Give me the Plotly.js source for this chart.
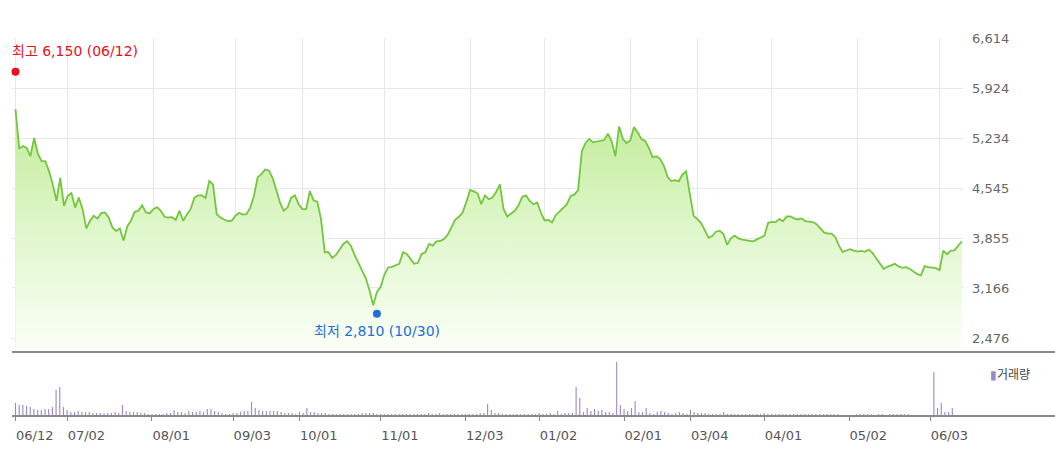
<!DOCTYPE html>
<html><head><meta charset="utf-8">
<script src="https://cdn.plot.ly/plotly-3.0.1.min.js"></script>
<style>html,body{margin:0;padding:0;background:#fff;}#chart{width:1055px;height:465px;}</style>
</head><body><div id="chart"></div>
<script>
// x tick positions (trading-day index) and labels
const tickIdx = [0,14,37,59,77,99,122,142,165,183,203,226,248];
const tickLabels = ['06/12','07/02','08/01','09/03','10/01','11/01','12/03','01/02','02/01','03/04','04/01','05/02','06/03'];
// price axis ticks
const priceTicks = [2476,3166,3855,4545,5234,5924,6614];
// daily close prices
const closePrice = [
5632,5088,5125,5097,4983,5234,5020,4915,4915,4778,
4595,4367,4686,4298,4435,4476,4275,4412,4253,3988,
4093,4161,4125,4198,4207,4138,4001,3951,3988,3819,
4015,4097,4216,4230,4307,4207,4198,4253,4280,4230,
4148,4138,4143,4106,4230,4093,4180,4253,4412,4444,
4444,4408,4641,4595,4184,4138,4111,4088,4093,4161,
4202,4180,4184,4275,4435,4695,4737,4800,4787,4686,
4517,4344,4230,4275,4412,4444,4321,4253,4253,4504,
4376,4358,4116,3659,3659,3581,3622,3705,3773,3810,
3750,3622,3522,3421,3303,3134,2928,3111,3180,3348,
3449,3458,3476,3499,3659,3636,3568,3499,3513,3636,
3659,3773,3750,3810,3814,3842,3901,4015,4106,4148,
4207,4353,4517,4499,4472,4321,4444,4390,4412,4490,
4595,4253,4152,4193,4230,4307,4421,4444,4367,4321,
4344,4207,4097,4106,4070,4170,4221,4275,4321,4435,
4453,4517,5052,5166,5221,5175,5184,5193,5207,5294,
5189,4983,5394,5221,5166,5202,5385,5312,5221,5193,
5097,4969,4983,4947,4855,4700,4641,4654,4636,4732,
4773,4458,4161,4116,4061,3965,3860,3883,3942,3956,
3910,3760,3851,3887,3851,3833,3828,3819,3810,3837,
3860,3887,4065,4079,4075,4116,4088,4152,4152,4125,
4111,4125,4088,4079,4075,4047,3988,3933,3915,3915,
3869,3750,3664,3677,3700,3682,3668,3677,3664,3696,
3650,3577,3499,3431,3458,3476,3499,3463,3444,3454,
3431,3394,3358,3339,3467,3454,3449,3440,3412,3682,
3632,3682,3686,3741,3810];
// daily volume (thousand shares)
const volume = [
130,110,110,100,90,70,60,60,70,70,
90,260,290,90,60,40,40,50,40,40,
40,30,30,30,30,30,30,40,30,110,
50,40,40,40,30,30,20,20,20,20,
20,30,30,60,40,40,30,50,40,40,
50,40,70,70,50,40,30,20,20,30,
30,40,50,50,140,80,60,50,50,50,
50,50,40,30,30,30,20,40,30,80,
40,40,30,30,30,20,20,20,20,20,
20,20,20,20,30,30,30,30,20,20,
20,20,20,20,20,20,20,20,20,20,
20,20,30,20,20,30,20,20,20,20,
20,20,20,20,20,20,30,30,120,60,
30,30,20,20,20,20,20,20,20,20,
20,20,30,20,20,30,20,50,20,30,
30,30,290,180,40,80,50,70,50,60,
40,40,30,540,110,70,50,80,150,40,
40,80,30,20,40,50,40,30,20,30,
40,30,20,60,40,30,30,30,20,20,
20,20,40,20,20,20,20,20,20,20,
20,20,20,30,20,20,20,20,20,20,
20,20,20,20,20,20,20,20,20,20,
20,20,20,20,10,10,10,10,20,20,
20,20,20,10,20,20,10,20,20,20,
20,20,20,10,10,10,10,10,10,440,
80,130,40,40,80];
// extremes
const extremeIdx = [0, 97];
const extremeVal = [6150, 2810];
const extremeLabel = ['최고 6,150 (06/12)', '최저 2,810 (10/30)'];
const extremeColor = ['#e8101c', '#1f6fd6'];

const days = closePrice.map((_, i) => i);
const FONT = "'DejaVu Sans', 'Noto Sans CJK KR', sans-serif";
const KFONT = "'Noto Sans CJK KR', sans-serif";

const traces = [
  {
    x: days, y: closePrice, type: 'scatter', mode: 'lines',
    xaxis: 'x', yaxis: 'y',
    line: {color: '#74c63e', width: 1.8},
    fill: 'tozeroy',
    fillgradient: {type: 'vertical', start: 2283, stop: 5600,
      colorscale: [[0, '#fbfff8'], [0.5, '#e0f7cc'], [1, '#c0ec98']]},
    hoverinfo: 'skip'
  },
  {
    x: days, y: volume, type: 'bar', xaxis: 'x2', yaxis: 'y2',
    width: 0.3, marker: {color: '#9a88cc', line: {width: 0}},
    hoverinfo: 'skip'
  },
  {
    x: [extremeIdx[0]], y: [extremeVal[0]], type: 'scatter', mode: 'markers',
    xaxis: 'x', yaxis: 'y', cliponaxis: false,
    marker: {color: extremeColor[0], size: 8}, hoverinfo: 'skip'
  },
  {
    x: [extremeIdx[1]], y: [extremeVal[1]], type: 'scatter', mode: 'markers',
    xaxis: 'x', yaxis: 'y', cliponaxis: false,
    marker: {color: extremeColor[1], size: 8}, hoverinfo: 'skip'
  }
];

const mainBottom = (416 - 352) / 378;
const volTop = (416 - 362) / 378;
const rightExt = (1055 - 12) / 951;

const layout = {
  width: 1055, height: 465,
  margin: {l: 12, r: 92, t: 38, b: 49, pad: 0},
  paper_bgcolor: '#ffffff', plot_bgcolor: '#ffffff',
  showlegend: false, hovermode: false,
  font: {family: FONT, size: 13, color: '#666'},
  xaxis: {
    domain: [0, 1], anchor: 'y', range: [-0.94, 254.3],
    tickvals: tickIdx, showticklabels: false, ticks: '',
    showgrid: true, gridcolor: '#e8e8e8', gridwidth: 1,
    zeroline: false, showline: false, fixedrange: true
  },
  yaxis: {
    domain: [mainBottom, 1], anchor: 'x', range: [2283, 6614],
    side: 'right', tickvals: priceTicks, tickformat: ',d', ticks: '',
    ticklabelstandoff: 8,
    tickfont: {family: FONT, size: 13, color: '#666'},
    showgrid: true, gridcolor: '#e8e8e8', gridwidth: 1,
    zeroline: false, showline: false, fixedrange: true
  },
  xaxis2: {
    domain: [0, 1], anchor: 'y2', range: [-0.95, 256.9],
    tickvals: tickIdx, ticktext: tickLabels,
    ticks: 'outside', ticklen: 4, tickcolor: '#888', tickwidth: 1,
    ticklabelposition: 'outside right', ticklabelstandoff: 7,
    tickfont: {family: FONT, size: 13, color: '#555'},
    showgrid: false, zeroline: false, showline: false, fixedrange: true
  },
  yaxis2: {
    domain: [0, volTop], anchor: 'x2', range: [0, 540],
    visible: false, fixedrange: true
  },
  shapes: [
    {type: 'line', xref: 'paper', yref: 'paper', x0: 0, x1: rightExt,
     y0: mainBottom, y1: mainBottom, line: {color: '#8a8a8a', width: 2}},
    {type: 'line', xref: 'paper', yref: 'paper', x0: 0, x1: rightExt,
     y0: 0, y1: 0, line: {color: '#8a8a8a', width: 2}}
  ],
  annotations: [
    {xref: 'x', yref: 'y', x: extremeIdx[0], y: extremeVal[0],
     text: extremeLabel[0], showarrow: false, xanchor: 'left', yanchor: 'middle',
     xshift: -6, yshift: 21, font: {family: FONT, size: 14, color: extremeColor[0]}},
    {xref: 'x', yref: 'y', x: extremeIdx[1], y: extremeVal[1],
     text: extremeLabel[1], showarrow: false, xanchor: 'center', yanchor: 'middle',
     yshift: -17, font: {family: FONT, size: 14, color: extremeColor[1]}},
    {xref: 'paper', yref: 'paper', x: rightExt - 0.024, y: (416 - 373) / 378,
     text: '<span style="color:#9a88cc">▮</span>거래량', showarrow: false,
     xanchor: 'right', yanchor: 'middle',
     font: {family: KFONT, size: 12, color: '#444'}}
  ]
};

Plotly.newPlot('chart', traces, layout, {staticPlot: true, displayModeBar: false});
</script>
</body></html>
